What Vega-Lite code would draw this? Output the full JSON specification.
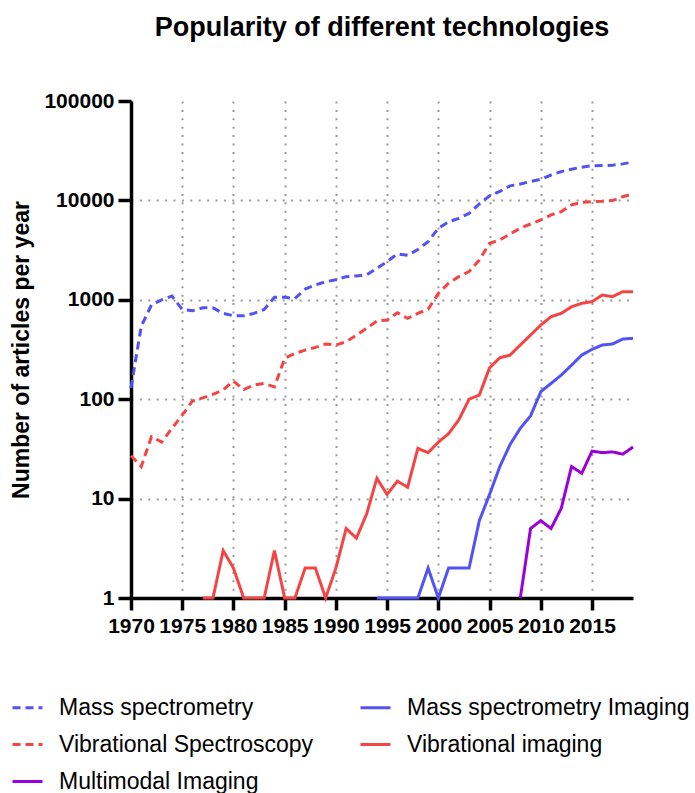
{
  "$schema": "https://vega.github.io/schema/vega-lite/v6.json",
  "autosize": "none",
  "padding": {"left": 131, "top": 101, "right": 62, "bottom": 195},
  "width": 502,
  "height": 497,
  "background": "white",
  "config": {
    "font": "Liberation Sans",
    "view": {"stroke": null},
    "axis": {
      "labelFont": "Liberation Sans",
      "labelFontWeight": "bold",
      "labelFontSize": 21,
      "labelColor": "black",
      "titleFont": "Liberation Sans",
      "titleFontWeight": "bold",
      "titleColor": "black",
      "domainColor": "black",
      "domainWidth": 3.5,
      "tickColor": "black",
      "tickWidth": 3.5,
      "grid": true,
      "gridColor": "#9a9a9a",
      "gridDash": [2, 6.4],
      "gridWidth": 2,
      "labelOverlap": false,
      "labelFlush": false
    },
    "legend": {
      "labelFont": "Liberation Sans",
      "labelFontSize": 23,
      "labelColor": "black",
      "labelLimit": 500
    }
  },
  "title": {
    "text": "Popularity of different technologies",
    "font": "Liberation Sans",
    "fontSize": 27,
    "fontWeight": "bold",
    "color": "black",
    "anchor": "middle",
    "frame": "group",
    "offset": 48
  },
  "data": {
    "values": [
      {"series": "Mass spectrometry", "year": 1970, "value": 130},
      {"series": "Mass spectrometry", "year": 1971, "value": 540},
      {"series": "Mass spectrometry", "year": 1972, "value": 890},
      {"series": "Mass spectrometry", "year": 1973, "value": 1000},
      {"series": "Mass spectrometry", "year": 1974, "value": 1090},
      {"series": "Mass spectrometry", "year": 1975, "value": 800},
      {"series": "Mass spectrometry", "year": 1976, "value": 775},
      {"series": "Mass spectrometry", "year": 1977, "value": 830},
      {"series": "Mass spectrometry", "year": 1978, "value": 830},
      {"series": "Mass spectrometry", "year": 1979, "value": 730},
      {"series": "Mass spectrometry", "year": 1980, "value": 690},
      {"series": "Mass spectrometry", "year": 1981, "value": 690},
      {"series": "Mass spectrometry", "year": 1982, "value": 730},
      {"series": "Mass spectrometry", "year": 1983, "value": 800},
      {"series": "Mass spectrometry", "year": 1984, "value": 1060},
      {"series": "Mass spectrometry", "year": 1985, "value": 1060},
      {"series": "Mass spectrometry", "year": 1986, "value": 1030},
      {"series": "Mass spectrometry", "year": 1987, "value": 1280},
      {"series": "Mass spectrometry", "year": 1988, "value": 1410},
      {"series": "Mass spectrometry", "year": 1989, "value": 1520},
      {"series": "Mass spectrometry", "year": 1990, "value": 1590},
      {"series": "Mass spectrometry", "year": 1991, "value": 1710},
      {"series": "Mass spectrometry", "year": 1992, "value": 1740},
      {"series": "Mass spectrometry", "year": 1993, "value": 1780},
      {"series": "Mass spectrometry", "year": 1994, "value": 2080},
      {"series": "Mass spectrometry", "year": 1995, "value": 2420},
      {"series": "Mass spectrometry", "year": 1996, "value": 2900},
      {"series": "Mass spectrometry", "year": 1997, "value": 2800},
      {"series": "Mass spectrometry", "year": 1998, "value": 3200},
      {"series": "Mass spectrometry", "year": 1999, "value": 3850},
      {"series": "Mass spectrometry", "year": 2000, "value": 5250},
      {"series": "Mass spectrometry", "year": 2001, "value": 6100},
      {"series": "Mass spectrometry", "year": 2002, "value": 6600},
      {"series": "Mass spectrometry", "year": 2003, "value": 7400},
      {"series": "Mass spectrometry", "year": 2004, "value": 9200},
      {"series": "Mass spectrometry", "year": 2005, "value": 11100},
      {"series": "Mass spectrometry", "year": 2006, "value": 12300},
      {"series": "Mass spectrometry", "year": 2007, "value": 14000},
      {"series": "Mass spectrometry", "year": 2008, "value": 14600},
      {"series": "Mass spectrometry", "year": 2009, "value": 15500},
      {"series": "Mass spectrometry", "year": 2010, "value": 16300},
      {"series": "Mass spectrometry", "year": 2011, "value": 18000},
      {"series": "Mass spectrometry", "year": 2012, "value": 19500},
      {"series": "Mass spectrometry", "year": 2013, "value": 20600},
      {"series": "Mass spectrometry", "year": 2014, "value": 21600},
      {"series": "Mass spectrometry", "year": 2015, "value": 22300},
      {"series": "Mass spectrometry", "year": 2016, "value": 22400},
      {"series": "Mass spectrometry", "year": 2017, "value": 22600},
      {"series": "Mass spectrometry", "year": 2018, "value": 23300},
      {"series": "Mass spectrometry", "year": 2019, "value": 24300},

      {"series": "Vibrational Spectroscopy", "year": 1970, "value": 27},
      {"series": "Vibrational Spectroscopy", "year": 1971, "value": 21},
      {"series": "Vibrational Spectroscopy", "year": 1972, "value": 42},
      {"series": "Vibrational Spectroscopy", "year": 1973, "value": 37},
      {"series": "Vibrational Spectroscopy", "year": 1974, "value": 51},
      {"series": "Vibrational Spectroscopy", "year": 1975, "value": 69},
      {"series": "Vibrational Spectroscopy", "year": 1976, "value": 96},
      {"series": "Vibrational Spectroscopy", "year": 1977, "value": 103},
      {"series": "Vibrational Spectroscopy", "year": 1978, "value": 112},
      {"series": "Vibrational Spectroscopy", "year": 1979, "value": 124},
      {"series": "Vibrational Spectroscopy", "year": 1980, "value": 152},
      {"series": "Vibrational Spectroscopy", "year": 1981, "value": 125},
      {"series": "Vibrational Spectroscopy", "year": 1982, "value": 139},
      {"series": "Vibrational Spectroscopy", "year": 1983, "value": 144},
      {"series": "Vibrational Spectroscopy", "year": 1984, "value": 133},
      {"series": "Vibrational Spectroscopy", "year": 1985, "value": 258},
      {"series": "Vibrational Spectroscopy", "year": 1986, "value": 289},
      {"series": "Vibrational Spectroscopy", "year": 1987, "value": 312},
      {"series": "Vibrational Spectroscopy", "year": 1988, "value": 332},
      {"series": "Vibrational Spectroscopy", "year": 1989, "value": 359},
      {"series": "Vibrational Spectroscopy", "year": 1990, "value": 351},
      {"series": "Vibrational Spectroscopy", "year": 1991, "value": 378},
      {"series": "Vibrational Spectroscopy", "year": 1992, "value": 442},
      {"series": "Vibrational Spectroscopy", "year": 1993, "value": 517},
      {"series": "Vibrational Spectroscopy", "year": 1994, "value": 611},
      {"series": "Vibrational Spectroscopy", "year": 1995, "value": 626},
      {"series": "Vibrational Spectroscopy", "year": 1996, "value": 740},
      {"series": "Vibrational Spectroscopy", "year": 1997, "value": 651},
      {"series": "Vibrational Spectroscopy", "year": 1998, "value": 731},
      {"series": "Vibrational Spectroscopy", "year": 1999, "value": 802},
      {"series": "Vibrational Spectroscopy", "year": 2000, "value": 1160},
      {"series": "Vibrational Spectroscopy", "year": 2001, "value": 1470},
      {"series": "Vibrational Spectroscopy", "year": 2002, "value": 1710},
      {"series": "Vibrational Spectroscopy", "year": 2003, "value": 1920},
      {"series": "Vibrational Spectroscopy", "year": 2004, "value": 2510},
      {"series": "Vibrational Spectroscopy", "year": 2005, "value": 3710},
      {"series": "Vibrational Spectroscopy", "year": 2006, "value": 4000},
      {"series": "Vibrational Spectroscopy", "year": 2007, "value": 4590},
      {"series": "Vibrational Spectroscopy", "year": 2008, "value": 5250},
      {"series": "Vibrational Spectroscopy", "year": 2009, "value": 5790},
      {"series": "Vibrational Spectroscopy", "year": 2010, "value": 6360},
      {"series": "Vibrational Spectroscopy", "year": 2011, "value": 7140},
      {"series": "Vibrational Spectroscopy", "year": 2012, "value": 7710},
      {"series": "Vibrational Spectroscopy", "year": 2013, "value": 9010},
      {"series": "Vibrational Spectroscopy", "year": 2014, "value": 9590},
      {"series": "Vibrational Spectroscopy", "year": 2015, "value": 9720},
      {"series": "Vibrational Spectroscopy", "year": 2016, "value": 9790},
      {"series": "Vibrational Spectroscopy", "year": 2017, "value": 9950},
      {"series": "Vibrational Spectroscopy", "year": 2018, "value": 10900},
      {"series": "Vibrational Spectroscopy", "year": 2019, "value": 11600},

      {"series": "Vibrational imaging", "year": 1977, "value": 1},
      {"series": "Vibrational imaging", "year": 1978, "value": 1},
      {"series": "Vibrational imaging", "year": 1979, "value": 3},
      {"series": "Vibrational imaging", "year": 1980, "value": 2},
      {"series": "Vibrational imaging", "year": 1981, "value": 1},
      {"series": "Vibrational imaging", "year": 1982, "value": 1},
      {"series": "Vibrational imaging", "year": 1983, "value": 1},
      {"series": "Vibrational imaging", "year": 1984, "value": 3},
      {"series": "Vibrational imaging", "year": 1985, "value": 1},
      {"series": "Vibrational imaging", "year": 1986, "value": 1},
      {"series": "Vibrational imaging", "year": 1987, "value": 2},
      {"series": "Vibrational imaging", "year": 1988, "value": 2},
      {"series": "Vibrational imaging", "year": 1989, "value": 1},
      {"series": "Vibrational imaging", "year": 1990, "value": 2},
      {"series": "Vibrational imaging", "year": 1991, "value": 5},
      {"series": "Vibrational imaging", "year": 1992, "value": 4},
      {"series": "Vibrational imaging", "year": 1993, "value": 7},
      {"series": "Vibrational imaging", "year": 1994, "value": 16},
      {"series": "Vibrational imaging", "year": 1995, "value": 11},
      {"series": "Vibrational imaging", "year": 1996, "value": 15},
      {"series": "Vibrational imaging", "year": 1997, "value": 13},
      {"series": "Vibrational imaging", "year": 1998, "value": 32},
      {"series": "Vibrational imaging", "year": 1999, "value": 29},
      {"series": "Vibrational imaging", "year": 2000, "value": 37},
      {"series": "Vibrational imaging", "year": 2001, "value": 45},
      {"series": "Vibrational imaging", "year": 2002, "value": 62},
      {"series": "Vibrational imaging", "year": 2003, "value": 100},
      {"series": "Vibrational imaging", "year": 2004, "value": 110},
      {"series": "Vibrational imaging", "year": 2005, "value": 207},
      {"series": "Vibrational imaging", "year": 2006, "value": 261},
      {"series": "Vibrational imaging", "year": 2007, "value": 278},
      {"series": "Vibrational imaging", "year": 2008, "value": 351},
      {"series": "Vibrational imaging", "year": 2009, "value": 442},
      {"series": "Vibrational imaging", "year": 2010, "value": 557},
      {"series": "Vibrational imaging", "year": 2011, "value": 676},
      {"series": "Vibrational imaging", "year": 2012, "value": 731},
      {"series": "Vibrational imaging", "year": 2013, "value": 851},
      {"series": "Vibrational imaging", "year": 2014, "value": 922},
      {"series": "Vibrational imaging", "year": 2015, "value": 957},
      {"series": "Vibrational imaging", "year": 2016, "value": 1117},
      {"series": "Vibrational imaging", "year": 2017, "value": 1075},
      {"series": "Vibrational imaging", "year": 2018, "value": 1207},
      {"series": "Vibrational imaging", "year": 2019, "value": 1207},

      {"series": "Mass spectrometry Imaging", "year": 1994, "value": 1},
      {"series": "Mass spectrometry Imaging", "year": 1995, "value": 1},
      {"series": "Mass spectrometry Imaging", "year": 1996, "value": 1},
      {"series": "Mass spectrometry Imaging", "year": 1997, "value": 1},
      {"series": "Mass spectrometry Imaging", "year": 1998, "value": 1},
      {"series": "Mass spectrometry Imaging", "year": 1999, "value": 2},
      {"series": "Mass spectrometry Imaging", "year": 2000, "value": 1},
      {"series": "Mass spectrometry Imaging", "year": 2001, "value": 2},
      {"series": "Mass spectrometry Imaging", "year": 2002, "value": 2},
      {"series": "Mass spectrometry Imaging", "year": 2003, "value": 2},
      {"series": "Mass spectrometry Imaging", "year": 2004, "value": 6},
      {"series": "Mass spectrometry Imaging", "year": 2005, "value": 11},
      {"series": "Mass spectrometry Imaging", "year": 2006, "value": 21},
      {"series": "Mass spectrometry Imaging", "year": 2007, "value": 35},
      {"series": "Mass spectrometry Imaging", "year": 2008, "value": 51},
      {"series": "Mass spectrometry Imaging", "year": 2009, "value": 68},
      {"series": "Mass spectrometry Imaging", "year": 2010, "value": 119},
      {"series": "Mass spectrometry Imaging", "year": 2011, "value": 144},
      {"series": "Mass spectrometry Imaging", "year": 2012, "value": 175},
      {"series": "Mass spectrometry Imaging", "year": 2013, "value": 220},
      {"series": "Mass spectrometry Imaging", "year": 2014, "value": 278},
      {"series": "Mass spectrometry Imaging", "year": 2015, "value": 317},
      {"series": "Mass spectrometry Imaging", "year": 2016, "value": 351},
      {"series": "Mass spectrometry Imaging", "year": 2017, "value": 359},
      {"series": "Mass spectrometry Imaging", "year": 2018, "value": 403},
      {"series": "Mass spectrometry Imaging", "year": 2019, "value": 410},

      {"series": "Multimodal Imaging", "year": 2008, "value": 1},
      {"series": "Multimodal Imaging", "year": 2009, "value": 5},
      {"series": "Multimodal Imaging", "year": 2010, "value": 6},
      {"series": "Multimodal Imaging", "year": 2011, "value": 5},
      {"series": "Multimodal Imaging", "year": 2012, "value": 8},
      {"series": "Multimodal Imaging", "year": 2013, "value": 21},
      {"series": "Multimodal Imaging", "year": 2014, "value": 18},
      {"series": "Multimodal Imaging", "year": 2015, "value": 30},
      {"series": "Multimodal Imaging", "year": 2016, "value": 29},
      {"series": "Multimodal Imaging", "year": 2017, "value": 29.5},
      {"series": "Multimodal Imaging", "year": 2018, "value": 28},
      {"series": "Multimodal Imaging", "year": 2019, "value": 33}
    ]
  },
  "mark": {"type": "line", "strokeWidth": 3, "clip": false},
  "encoding": {
    "x": {
      "field": "year",
      "type": "quantitative",
      "scale": {"domain": [1970, 2019], "nice": false, "zero": false},
      "axis": {
        "title": null,
        "values": [1970, 1975, 1980, 1985, 1990, 1995, 2000, 2005, 2010, 2015],
        "format": "d",
        "tickSize": 12,
        "labelPadding": 5
      }
    },
    "y": {
      "field": "value",
      "type": "quantitative",
      "scale": {"type": "log", "domain": [1, 100000], "nice": false},
      "axis": {
        "title": "Number of articles per year",
        "titleFontSize": 23,
        "titlePadding": 10,
        "values": [1, 10, 100, 1000, 10000, 100000],
        "format": "d",
        "tickSize": 13,
        "labelPadding": 4,
        "gridOpacity": {"condition": {"test": "datum.value >= 100000", "value": 0}, "value": 1}
      }
    },
    "color": {
      "field": "series",
      "type": "nominal",
      "scale": {
        "domain": ["Mass spectrometry", "Mass spectrometry Imaging", "Vibrational Spectroscopy", "Vibrational imaging", "Multimodal Imaging"],
        "range": ["#5252f5", "#5252f5", "#f54444", "#f54444", "#9a00dc"]
      },
      "legend": {
        "title": null,
        "orient": "none",
        "direction": "horizontal",
        "legendX": -120,
        "legendY": 590,
        "columns": 2,
        "symbolType": "stroke",
        "symbolSize": 900,
        "symbolStrokeWidth": 3,
        "labelOffset": 15,
        "columnPadding": 41,
        "rowPadding": 8
      }
    },
    "strokeDash": {
      "field": "series",
      "type": "nominal",
      "scale": {
        "domain": ["Mass spectrometry", "Mass spectrometry Imaging", "Vibrational Spectroscopy", "Vibrational imaging", "Multimodal Imaging"],
        "range": [[8, 5], [1, 0], [8, 5], [1, 0], [1, 0]]
      },
      "legend": {
        "title": null,
        "orient": "none",
        "direction": "horizontal",
        "legendX": -120,
        "legendY": 590,
        "columns": 2,
        "symbolType": "stroke",
        "symbolSize": 900,
        "symbolStrokeWidth": 3,
        "labelOffset": 15,
        "columnPadding": 41,
        "rowPadding": 8
      }
    }
  }
}
